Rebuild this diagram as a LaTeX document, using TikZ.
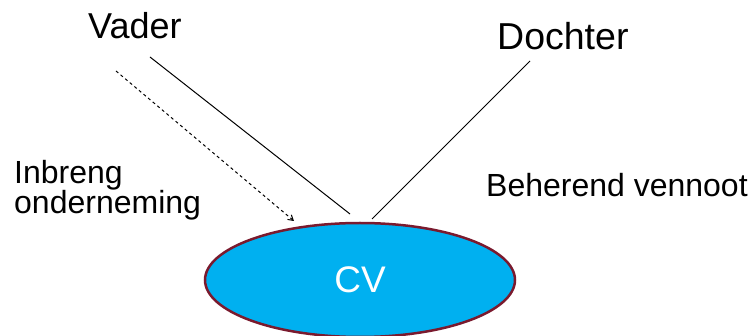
\documentclass[tikz,border=0pt]{standalone}
\usepackage{fontspec}
\setmainfont{Liberation Sans}
\usetikzlibrary{shapes.geometric,arrows.meta}
\definecolor{cvfill}{HTML}{00B0F0}
\definecolor{cvrand}{HTML}{7A1A2E}
\begin{document}
\begin{tikzpicture}[x=1pt,y=-1pt,>={Straight Barb[length=5pt,width=6pt]},
    groot/.style={inner sep=0pt,font=\fontsize{36}{40}\selectfont},
    klein/.style={inner sep=0pt,font=\fontsize{32}{30}\selectfont},
    lijn/.style={line width=1pt}]
        \useasboundingbox (0,0) rectangle (752,336);
        \node[ellipse,draw=cvrand,line width=2.5pt,fill=cvfill,minimum width=310pt,minimum height=114pt,
              text=white,font=\fontsize{37}{40}\selectfont] (cv) at (360,280){CV};
        \node[groot,anchor=base west] (vader) at (88,39){Vader};
        \node[groot,anchor=base west,font=\fontsize{37.5}{40}\selectfont] (dochter) at (497,50){Dochter};
        \node[klein,anchor=base west,align=left] (inbreng) at (14,214){Inbreng\\onderneming};
        \node[klein,anchor=base west] (beherend) at (486,197){Beherend vennoot};
        % eindpunten van de lijnen
        \coordinate (v1) at (150,57);
        \coordinate (v2) at (350,214);
        \coordinate (d1) at (530,61);
        \coordinate (d2) at (372,219);
        \coordinate (i1) at (116,71);
        \coordinate (i2) at (294,221);
        \draw[lijn](v1)--(v2);
        \draw[lijn](d1)--(d2);
        \draw[lijn,->,dash pattern=on 3pt off 3pt](i1)--(i2);
    \end{tikzpicture}
\end{document}
